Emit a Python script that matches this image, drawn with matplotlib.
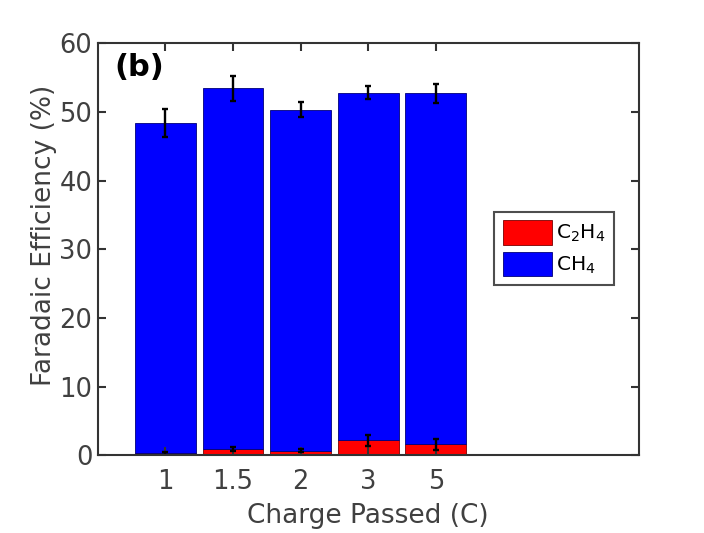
import numpy as np
import matplotlib.pyplot as plt

charge_labels = ['1', '1.5', '2', '3', '5']
c2h4 = [0.25, 0.95, 0.65, 2.2, 1.6]
c2h4_err = [0.2, 0.3, 0.2, 0.8, 0.8]
total = [48.4, 53.4, 50.3, 52.8, 52.7]
total_err = [2.0, 1.85, 1.1, 1.0, 1.4]

ch4 = [t - c for t, c in zip(total, c2h4)]
x = np.arange(1, len(charge_labels) + 1)

plt.rcParams['font.family'] = 'DejaVu Sans'
fig = plt.figure(figsize=(7.04, 5.33), dpi=100)
ax = fig.add_axes([0.139, 0.146, 0.768, 0.773])

txt = '#404040'
ax.bar(x, c2h4, width=0.9, color='#ff0000', edgecolor='#7a0000', linewidth=0.6, label='C$_2$H$_4$')
ax.bar(x, ch4, width=0.9, bottom=c2h4, color='#0000ff', edgecolor='#00007a', linewidth=0.6, label='CH$_4$')
ax.errorbar(x, total, yerr=total_err, fmt='none', ecolor='black', elinewidth=1.7, capsize=2.2, capthick=1.7)
ax.errorbar(x, c2h4, yerr=c2h4_err, fmt='none', ecolor='black', elinewidth=1.7, capsize=2.2, capthick=1.7)

ax.set_xlim(0, 8)
ax.set_ylim(0, 60)
ax.set_xticks(x)
ax.set_xticklabels(charge_labels)
ax.set_yticks(np.arange(0, 61, 10))
ax.tick_params(direction='in', top=True, right=True, length=6, width=1.5, colors='#333333',
               labelcolor=txt, labelsize=18.5)
ax.tick_params(axis='x', pad=10)
ax.tick_params(axis='y', pad=4)
for s in ax.spines.values():
    s.set_linewidth(1.5)
    s.set_color('#333333')

ax.set_xlabel('Charge Passed (C)', fontsize=19, color=txt, labelpad=6)
ax.set_ylabel('Faradaic Efficiency (%)', fontsize=19, color=txt, labelpad=1.5)
ax.yaxis.label.set_y(0.534)  # label sits a bit above the centre in the original
ax.text(0.03, 0.975, '(b)', transform=ax.transAxes, fontsize=22, fontweight='bold', va='top', ha='left')

leg = ax.legend(loc='center left', bbox_to_anchor=(0.733, 0.502), fontsize=14.5, frameon=True, fancybox=False,
                handlelength=2.45, handleheight=1.5, borderpad=0.42, labelspacing=0.35, handletextpad=0.2,
                borderaxespad=0)
leg.get_frame().set_edgecolor('#222222')
leg.get_frame().set_linewidth(1.5)

fig.savefig('out.png', dpi=100)
